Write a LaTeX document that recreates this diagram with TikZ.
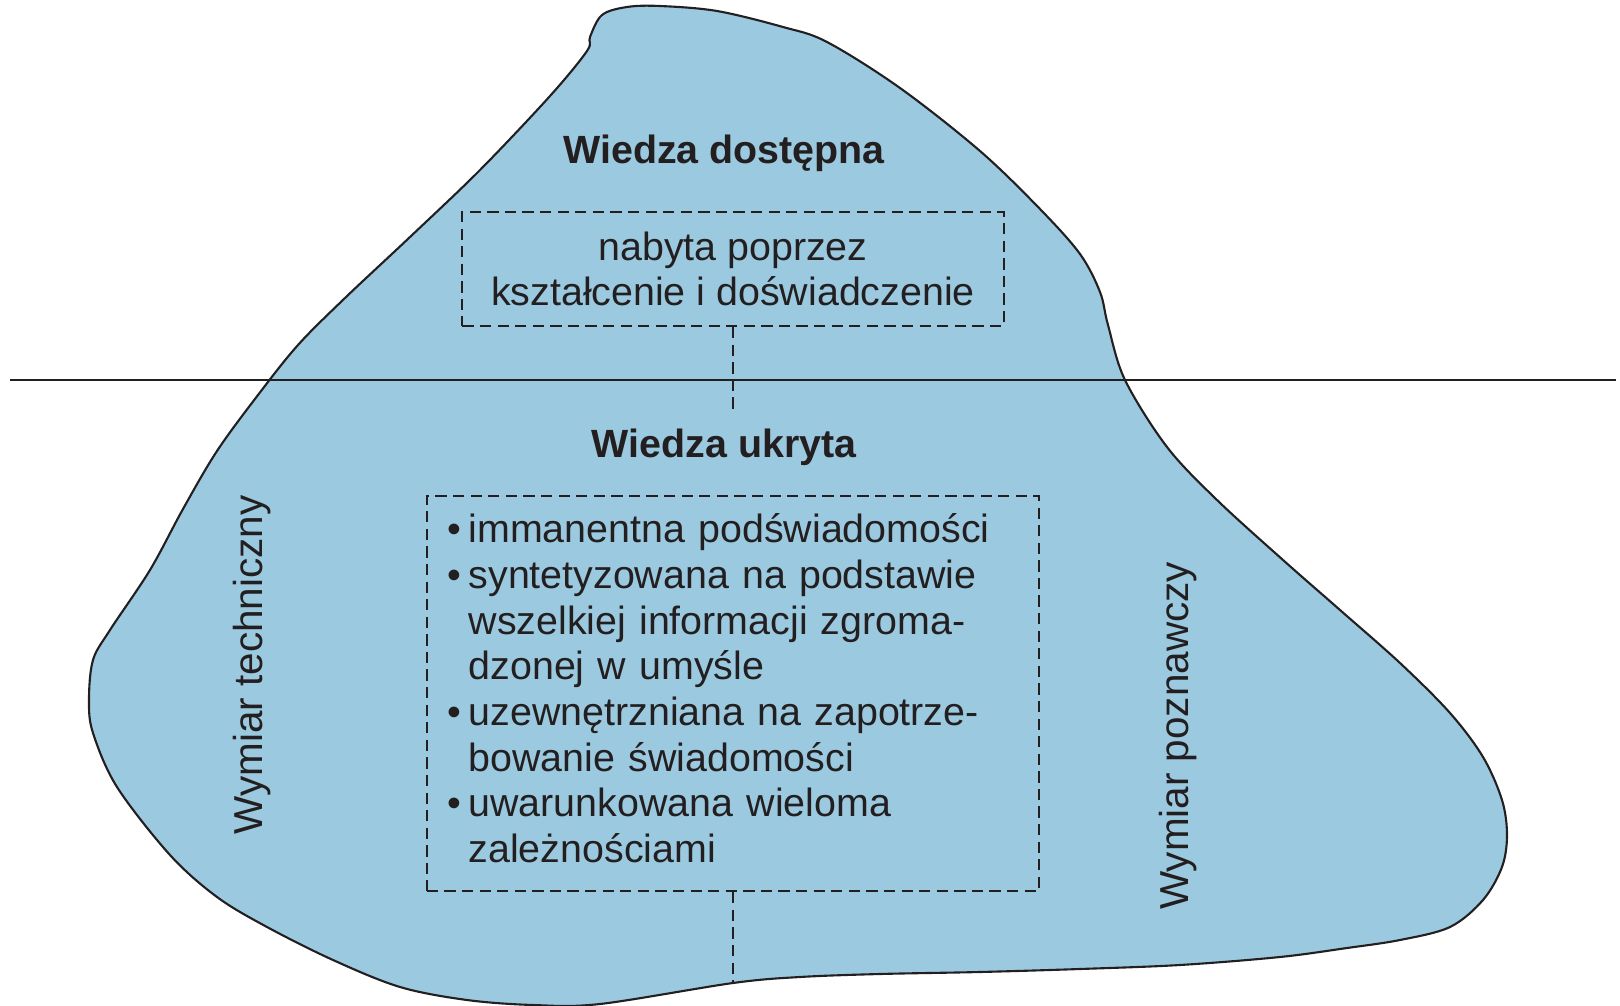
\documentclass[tikz,border=0pt]{standalone}
\usepackage{fontspec}
\setmainfont{Liberation Sans}
\definecolor{lod}{RGB}{155,202,224}
\definecolor{tusz}{RGB}{35,31,32}

\begin{document}
\begin{tikzpicture}[x=0.01cm,y=-0.01cm,
  ramka/.style={draw=tusz,line width=0.6pt,dash pattern=on 3.2pt off 1.8pt},
  tytul/.style={font=\fontsize{11.2}{13}\selectfont\bfseries,text=tusz,inner sep=4pt,anchor=base},
  wymiar/.style={font=\fontsize{11.5}{13}\selectfont,text=tusz,rotate=90,anchor=base,inner sep=0pt}]
\useasboundingbox (0,0) rectangle (1620,1006);

% gora lodowa
\draw[fill=lod,draw=tusz,line width=0.6pt] plot[smooth cycle,tension=0.55] coordinates {
  (590,37) (602,15) (627,7) (660,6) (717,11) (783,27) (827,42) (900,88)
  (980,151) (1040,209) (1080,254) (1100,292) (1108,325) (1125,380)
  (1167,447) (1217,500) (1283,560) (1340,610) (1400,663) (1450,713)
  (1483,757) (1502,800) (1507,835) (1502,867) (1483,900) (1450,927)
  (1400,940) (1347,948) (1280,957) (1180,965) (1080,969) (980,972) (880,974)
  (800,977) (733,983) (600,1004) (533,1005) (467,1000) (400,987) (333,960)
  (267,927) (217,897) (170,855) (117,787) (93,733) (89,700) (93,660) (110,630)
  (150,570) (183,509) (217,451) (258,395) (298,345)
  (345,298) (410,237) (480,170) (550,96) (587,51)};

% poziom wody
\draw[tusz,line width=0.5pt] (10,380) -- (1616,380);

\node[tytul] (dostepna) at (724,163) {Wiedza dostępna};
\node[ramka,minimum width=5.41cm,minimum height=1.14cm,align=center,
  font=\fontsize{11.2}{12.8}\selectfont,text=tusz] (nabyta) at (733,269)
  {nabyta poprzez\\kształcenie i doświadczenie};
\node[tytul] (ukryta) at (724,457) {Wiedza ukryta};
\node[ramka,text width=5.70cm,inner xsep=0.21cm,minimum height=3.95cm,align=left,
  font=\fontsize{11.2}{13}\selectfont,text=tusz] (cechy) at (733,693.5)
  {\begin{tabular}{@{}l@{\hspace{2pt}}l@{}}
   \textbullet & immanentna podświadomości\\
   \textbullet & syntetyzowana na podstawie\\
               & wszelkiej informacji zgroma-\\
               & dzonej w umyśle\\
   \textbullet & uzewnętrzniana na zapotrze-\\
               & bowanie świadomości\\
   \textbullet & uwarunkowana wieloma\\
               & zależnościami
   \end{tabular}};

\node[wymiar] (techniczny) at (262,665) {Wymiar techniczny};
\node[wymiar] (poznawczy) at (1188,736) {Wymiar poznawczy};

\coordinate (dno) at (733,983);
\draw[ramka] (nabyta.south) -- (nabyta.south |- ukryta.north);
\draw[ramka] (cechy.south) -- (dno);
\end{tikzpicture}
\end{document}
